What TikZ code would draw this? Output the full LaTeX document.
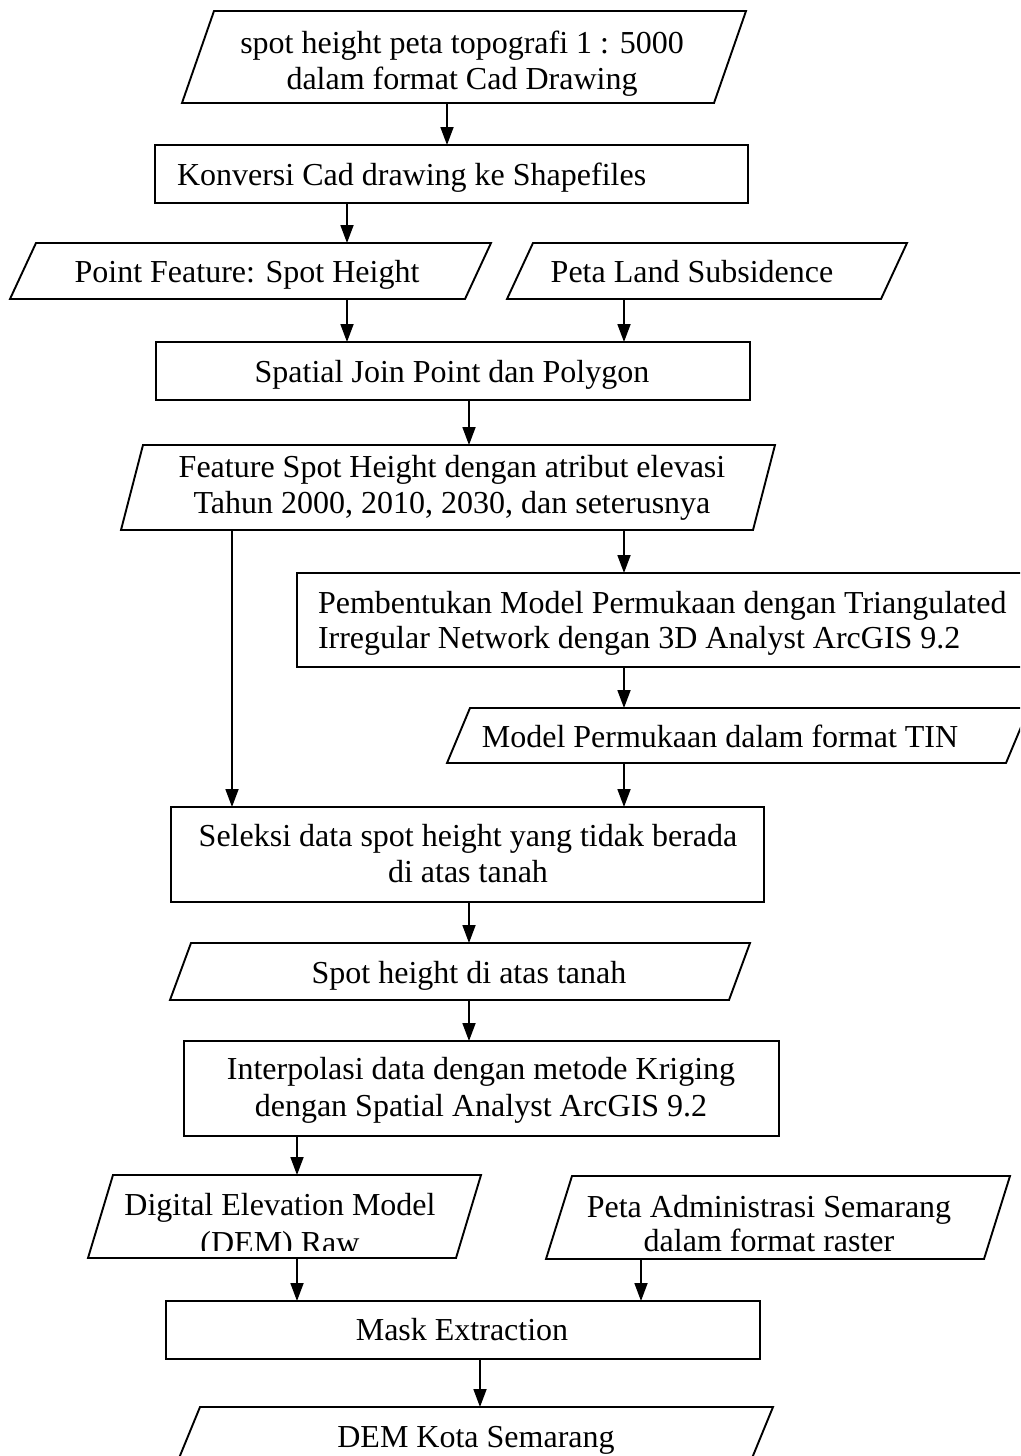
\documentclass[tikz,border=0pt]{standalone}
\usepackage{fontspec}
\setmainfont{Liberation Serif}
\usetikzlibrary{arrows.meta}
\tikzset{
  ln/.style={line width=1.9pt, draw=black},
  boxnode/.style={draw=black, line width=1.9pt, rectangle, inner sep=0pt, outer sep=0pt},
  pframe/.style={rectangle, inner sep=0pt, outer sep=0pt},
  txt/.style={font=\fontsize{32}{#1}\selectfont, inner sep=0pt, outer sep=0pt, align=center},
  txt/.default=36,
  arr/.style={line width=1.8pt, -{Triangle[length=18pt,width=13pt]}},
}
% name, x bottom-left, x top-right, y top, y bottom, slant
\newcommand\parafig[6]{%
  \node[pframe, minimum width={(#3)-(#2)}, minimum height={(#5)-(#4)}] (#1) at ({((#2)+(#3))/2},{((#4)+(#5))/2}) {};
  \draw[ln] (#1.south west) -- ([xshift=#6pt]#1.north west) -- (#1.north east) -- ([xshift=-#6pt]#1.south east) -- cycle;}
\begin{document}
\begin{tikzpicture}[x=1pt,y=-1pt]
\useasboundingbox (0,0) rectangle (1020,1456);
\clip (0,0) rectangle (1020,1456);
\fill[white] (0,0) rectangle (1020,1456);

% arrow columns
\coordinate (cA) at (447,0);
\coordinate (cB) at (347,0);
\coordinate (cC) at (624,0);
\coordinate (cD) at (469,0);
\coordinate (cE) at (232,0);
\coordinate (cF) at (297,0);
\coordinate (cG) at (641,0);
\coordinate (cH) at (480,0);

% shapes
\parafig{src}{182}{746}{11}{103}{32}
\node[txt=36] (srct) at (462,64) {\strut spot height peta topografi 1 : 5000\\\strut dalam format Cad Drawing};

\node[boxnode, minimum width=593pt, minimum height=58pt] (konv) at (451.5,174) {};
\node[txt, anchor=west] (konvt) at (177,177.8) {\strut Konversi Cad drawing ke Shapefiles};

\parafig{pf}{10}{491}{243}{299}{26}
\node[txt] (pft) at (247,274.8) {\strut Point Feature: Spot Height};
\parafig{ls}{507}{907}{243}{299}{26}
\node[txt] (lst) at (692,274.8) {\strut Peta Land Subsidence};

\node[boxnode, minimum width=594pt, minimum height=58pt] (sj) at (453,371) {};
\node[txt] (sjt) at (452,374.8) {\strut Spatial Join Point dan Polygon};

\parafig{fs}{121}{775}{445}{530}{22}
\node[txt] (fst) at (452,487.8) {\strut Feature Spot Height dengan atribut elevasi\\\strut Tahun 2000, 2010, 2030, dan seterusnya};

\node[boxnode, minimum width=725pt, minimum height=94pt] (pm) at (659.5,620) {};
\node[txt=35, anchor=west, align=left] (pmt) at (318,623.5) {\strut Pembentukan Model Permukaan dengan Triangulated\\\strut Irregular Network dengan 3D Analyst ArcGIS 9.2};

\parafig{tin}{447}{1029}{708}{763}{23}
\node[txt] (tint) at (720,739.8) {\strut Model Permukaan dalam format TIN};

\node[boxnode, minimum width=593pt, minimum height=95pt] (sel) at (467.5,854.5) {};
\node[txt=36] (selt) at (468,857) {\strut Seleksi data spot height yang tidak berada\\\strut di atas tanah};

\parafig{spot}{170}{750}{943}{1000}{21}
\node[txt] (spott) at (469,975.8) {\strut Spot height di atas tanah};

\node[boxnode, minimum width=595pt, minimum height=95pt] (interp) at (481.5,1088.5) {};
\node[txt=37] (interpt) at (481,1091) {\strut Interpolasi data dengan metode Kriging\\\strut dengan Spatial Analyst ArcGIS 9.2};

\parafig{dem}{88}{481}{1175}{1258}{25}
\begin{scope}
  \clip (90,1170) rectangle (480,1250);
  \node[txt=38] (demt) at (280,1226.4) {\strut Digital Elevation Model\\\strut (DEM) Raw};
\end{scope}

\parafig{adm}{546}{1010}{1176}{1259}{26}
\node[txt=34] (admt) at (769,1228) {\strut Peta Administrasi Semarang\\\strut dalam format raster};

\node[boxnode, minimum width=594pt, minimum height=58pt] (mask) at (463,1330) {};
\node[txt] (maskt) at (462,1332.8) {\strut Mask Extraction};

\parafig{kota}{177}{773}{1407}{1463}{23}
\node[txt] (kotat) at (476,1439.8) {\strut DEM Kota Semarang};

% connectors
\draw[arr] (src.south -| cA) -- (konv.north -| cA);
\draw[arr] (konv.south -| cB) -- (pf.north -| cB);
\draw[arr] (pf.south -| cB) -- (sj.north -| cB);
\draw[arr] (ls.south -| cC) -- (sj.north -| cC);
\draw[arr] (sj.south -| cD) -- (fs.north -| cD);
\draw[arr] (fs.south -| cC) -- (pm.north -| cC);
\draw[arr] (pm.south -| cC) -- (tin.north -| cC);
\draw[arr] (tin.south -| cC) -- (sel.north -| cC);
\draw[arr] (fs.south -| cE) -- (sel.north -| cE);
\draw[arr] (sel.south -| cD) -- (spot.north -| cD);
\draw[arr] (spot.south -| cD) -- (interp.north -| cD);
\draw[arr] (interp.south -| cF) -- (dem.north -| cF);
\draw[arr] (dem.south -| cF) -- (mask.north -| cF);
\draw[arr] (adm.south -| cG) -- (mask.north -| cG);
\draw[arr] (mask.south -| cH) -- (kota.north -| cH);
\end{tikzpicture}
\end{document}
